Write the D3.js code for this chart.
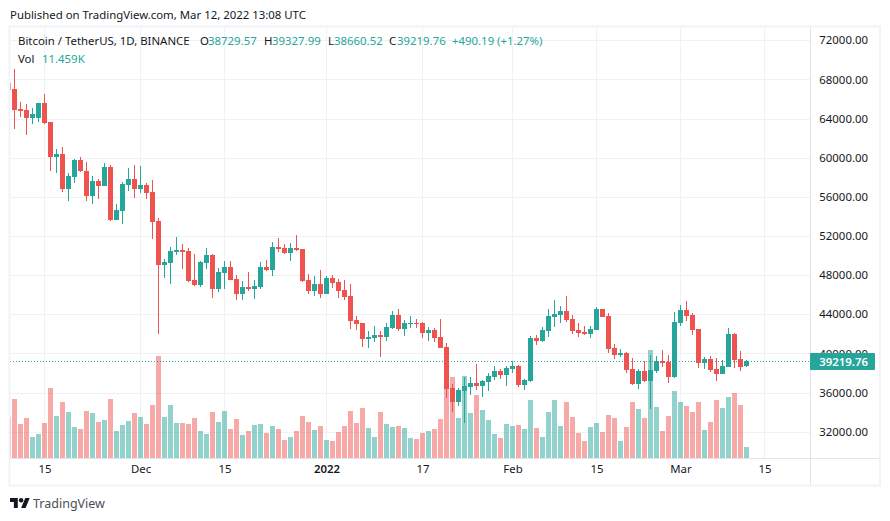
<!DOCTYPE html>
<html>
<head>
<meta charset="utf-8">
<style>
  html, body { margin: 0; padding: 0; background: #fff; }
  svg { display: block; }
  text { font-family: "Noto Sans", sans-serif; font-size: 11.4px; fill: #131722; }
</style>
<script src="https://cdn.jsdelivr.net/npm/d3@7"></script>
</head>
<body>
<div id="chart"></div>
<script>
// daily candles, first one is 2021-11-09 (mostly cut off by the left edge)
var firstDay = Date.UTC(2021, 10, 9);

var opens = [67624,67009,64957,64855,64034,64034,65573,63624,60034,60342,56854,57983,59726,58598,56136,57572,57060,59008,53675,54598,57162,57777,56854,57162,56547,53572,49059,49264,50393,50598,50495,47521,47008,49264,50085,46598,48239,48854,47623,46085,46803,46598,46803,48854,48546,50906,50803,50290,50803,50700,47521,46392,47110,46085,47726,47316,46495,45880,43418,43110,41469,41572,41879,41674,42597,43931,42495,43008,43110,43110,42085,42392,41674,40649,36443,35008,36136,36546,36956,36648,37058,37571,38187,37777,38392,38700,36752,37162,41573,41265,42291,43727,43932,44342,43522,42394,42188,41983,42394,44547,43830,40547,39829,40034,38393,36855,38188,37162,38188,39214,39111,37573,43112,44445,43932,42496,39009,39419,38393,37880,38598,41983,39419,38729.57];
var highs = [68000,69060,65675,65470,65060,65573,66496,63624,60855,61060,58393,59829,60034,59521,58085,57777,59419,59213,55316,57470,58906,59213,59111,57367,57675,53880,49675,50906,51931,51213,50803,50187,49470,50803,50187,48751,49470,49470,48033,47418,48341,47521,49367,49572,51418,51829,51213,51316,52136,50700,48136,47931,48547,47931,48034,47623,47521,47110,43828,43110,42290,42803,42290,43110,44341,44546,43418,43828,43521,43213,42700,42597,43521,41059,36854,36443,37571,37571,38905,37264,37982,38700,38392,38700,39213,38802,37368,41778,41881,42701,44547,45471,44855,45881,43932,43112,42804,42804,44753,44547,44137,40957,40445,40137,39522,38393,39214,39829,39727,40342,39829,44240,44958,45368,44137,42496,39624,39727,39522,39316,42598,42086,40239,39327.99];
var lows = [66500,62906,64137,62291,63419,63624,63419,58598,58393,56547,55624,57367,58496,55624,55316,55829,57060,53572,53675,53264,56649,55931,56444,55829,51726,41982,47726,47111,50085,48649,47316,46905,46803,48649,45675,46290,46598,47521,45469,45469,46392,45572,46598,48444,47931,50393,50188,49470,50495,47316,46085,45880,45674,46085,46700,45674,45469,42495,42392,40649,40546,41162,39623,41264,42495,42290,41777,42597,42597,41572,41264,41162,40546,35417,33982,34597,32853,35725,36238,35520,36136,37264,37367,36648,37982,36546,36239,37060,40855,41163,41675,42701,43112,43214,41983,41675,41881,41573,42394,43727,40034,39419,39624,37983,36752,36342,37060,34290,37983,38598,36957,37470,42804,43317,41881,38496,38393,38086,37162,37880,38598,38496,38188,38660.52];
var closes = [66906,64855,64752,64034,64445,65573,63521,60034,60342,56854,58085,59726,58598,56136,57572,57060,59008,53675,54701,57265,57777,56854,57162,56444,53470,49059,49367,50495,50598,50393,47418,47008,49367,50085,46598,48341,48854,47521,46085,46803,46598,46905,48854,48546,50906,50700,50290,50803,50598,47418,46392,47110,46085,47726,47213,46392,45777,43315,43008,41469,41674,41879,41674,42700,43931,42495,43110,43110,43008,42085,42392,41572,40546,36341,35008,36238,36648,36956,36648,37161,37674,38187,37777,38495,38700,36751,37265,41573,41265,42394,43830,44035,44342,43419,42291,42086,41983,42496,44547,43727,40445,39829,40034,38291,36855,38188,37162,38291,39214,39009,37573,43214,44445,43829,42394,39009,39419,38291,37880,38701,41983,39316,38598,39219.76];
// volume in thousands of BTC
var volumes = [43.1,61.5,35.4,41.7,21.9,25,36.5,72.9,43.8,58.3,47.9,32.3,30.2,49,46.9,37.5,39.6,61.5,28.1,34.4,38.5,46.9,42.7,35.4,55.2,106.3,42.7,55.2,36.5,36.5,35.4,41.7,28.1,25,47.9,37.5,49,30.2,40.6,24,28.1,34.4,35.4,26,33.3,30.2,18.8,21.9,28.1,43.8,37.5,29.2,33.3,18.8,17.7,27.1,33.3,49,36.5,52.1,31.3,21.9,47.9,35.4,32.3,33.3,31.3,20.8,19.8,26,28.1,30.2,40.6,77.8,84.4,41.7,85.4,46.9,65.6,50,39.6,25,20.8,35.4,33.3,34.4,30.2,60.4,31.3,21.9,47.9,60.4,33.3,58.3,42.7,26,17.7,32.3,36.5,27.1,44.8,41.7,17.7,32.3,58.3,51,41.7,112.5,53.1,28.1,43.8,69.8,58.3,54.2,47.9,58.3,29.2,37.5,60.4,52.1,63.5,67.7,55.2,11.459];

var priceTicks = [32000,36000,40000,44000,48000,52000,56000,60000,64000,68000,72000];
var dateTicks = ["2021-11-15","2021-12-01","2021-12-15","2022-01-01","2022-01-17","2022-02-01","2022-02-15","2022-03-01","2022-03-15"];
var dateLabels = ["15","Dec","15","2022","17","Feb","15","Mar","15"];
var lastPrice = 39219.76;

var UP = "#26a69a", DOWN = "#ef5350";
var GRID = "#f0f1f4";

// the pane inside the frame
var pane = {left: 10, right: 810, top: 27, bottom: 458};

var svg = d3.select("#chart").append("svg")
  .attr("width", 890)
  .attr("height", 521);

var dayMs = 86400000;
var candles = opens.map(function(o, i) {
  return {date: new Date(firstDay + i * dayMs), o: o, h: highs[i], l: lows[i], c: closes[i], v: volumes[i]};
});

var x = d3.scaleUtc()
  .domain([new Date("2021-11-10"), new Date("2022-03-15")])
  .range([14.5, 764.5]);

var y = d3.scaleLinear()
  .domain([32000, 72000])
  .range([431.7, 40.3]);

var yVol = d3.scaleLinear()
  .domain([0, 100])
  .range([pane.bottom, pane.bottom - 96]);

var tickDates = dateTicks.map(function(d) { return new Date(d); });

svg.append("text")
  .attr("x", 10).attr("y", 19)
  .text("Published on TradingView.com, Mar 12, 2022 13:08 UTC");

// gridlines
var grid = svg.append("g");
grid.selectAll(".gridH").data(priceTicks).enter().append("line")
  .attr("x1", pane.left).attr("x2", pane.right)
  .attr("y1", function(d) { return Math.round(y(d)) + 0.5; })
  .attr("y2", function(d) { return Math.round(y(d)) + 0.5; })
  .attr("stroke", GRID);
grid.selectAll(".gridV").data(tickDates).enter().append("line")
  .attr("x1", function(d) { return x(d); })
  .attr("x2", function(d) { return x(d); })
  .attr("y1", pane.top).attr("y2", pane.bottom)
  .attr("stroke", GRID);

svg.append("clipPath").attr("id", "paneClip").append("rect")
  .attr("x", pane.left).attr("y", pane.top)
  .attr("width", pane.right - pane.left)
  .attr("height", pane.bottom - pane.top);

var plot = svg.append("g").attr("clip-path", "url(#paneClip)");

function colour(d) { return d.c >= d.o ? UP : DOWN; }

// volume goes under the candles
plot.selectAll(".vol").data(candles).enter().append("rect")
  .attr("x", function(d) { return x(d.date) - 2.5; })
  .attr("width", 5)
  .attr("y", function(d) { return Math.round(yVol(d.v)); })
  .attr("height", function(d) { return pane.bottom - Math.round(yVol(d.v)); })
  .attr("fill", colour)
  .attr("fill-opacity", 0.5);

// last price line
plot.append("line")
  .attr("x1", pane.left).attr("x2", pane.right)
  .attr("y1", Math.round(y(lastPrice)) + 0.5)
  .attr("y2", Math.round(y(lastPrice)) + 0.5)
  .attr("stroke", UP)
  .attr("stroke-dasharray", "1,2");

// wicks
plot.selectAll(".wick").data(candles).enter().append("rect")
  .attr("x", function(d) { return x(d.date) - 0.5; })
  .attr("width", 1)
  .attr("y", function(d) { return Math.round(y(d.h)); })
  .attr("height", function(d) { return Math.round(y(d.l)) - Math.round(y(d.h)); })
  .attr("fill", colour);

// bodies
plot.selectAll(".body").data(candles).enter().append("rect")
  .attr("x", function(d) { return x(d.date) - 2.5; })
  .attr("width", 5)
  .attr("y", function(d) { return Math.round(y(Math.max(d.o, d.c))); })
  .attr("height", function(d) {
    return Math.max(1, Math.round(y(Math.min(d.o, d.c))) - Math.round(y(Math.max(d.o, d.c))));
  })
  .attr("fill", colour);

// bottom axis
var xAxis = svg.append("g")
  .attr("transform", "translate(0," + pane.bottom + ")")
  .call(d3.axisBottom(x)
    .tickValues(tickDates)
    .tickSize(0)
    .tickPadding(7)
    .tickFormat(function(d, i) { return dateLabels[i]; }));
xAxis.select(".domain").remove();
xAxis.selectAll("text")
  .style("font-family", '"Noto Sans", sans-serif')
  .style("font-size", "11.4px")
  .style("fill", "#131722")
  .style("font-weight", function(d, i) { return dateLabels[i] === "2022" ? 600 : 400; });

// price axis
var yAxis = svg.append("g")
  .attr("transform", "translate(" + pane.right + ",0)")
  .call(d3.axisRight(y)
    .tickValues(priceTicks)
    .tickSize(0)
    .tickFormat(function(d) { return d.toFixed(2); }));
yAxis.select(".domain").remove();
yAxis.selectAll("text")
  .attr("x", 58)
  .attr("text-anchor", "end")
  .style("font-family", '"Noto Sans", sans-serif')
  .style("font-size", "11.4px")
  .style("fill", "#131722");

// axis lines and outer frame
svg.append("line")
  .attr("x1", pane.left).attr("x2", 880)
  .attr("y1", pane.bottom + 0.5).attr("y2", pane.bottom + 0.5)
  .attr("stroke", "#e0e3eb");
svg.append("line")
  .attr("x1", pane.right + 0.5).attr("x2", pane.right + 0.5)
  .attr("y1", pane.top).attr("y2", 485)
  .attr("stroke", "#e0e3eb");
svg.append("rect")
  .attr("x", 9.5).attr("y", 26.5)
  .attr("width", 870.5).attr("height", 459)
  .attr("fill", "none")
  .attr("stroke", "#f0f3fa")
  .attr("stroke-width", 2);

// last price tag
svg.append("rect")
  .attr("x", pane.right).attr("y", Math.round(y(lastPrice)) - 8)
  .attr("width", 65).attr("height", 17)
  .attr("rx", 1)
  .attr("fill", UP);
svg.append("text")
  .attr("x", 868).attr("y", Math.round(y(lastPrice)) + 5)
  .attr("text-anchor", "end")
  .style("fill", "#fff")
  .style("font-weight", 600)
  .text(lastPrice.toFixed(2));

// legend
var legendDark = [
  {t: "Bitcoin / TetherUS, 1D, BINANCE", x: 18}, {t: "O", x: 200}, {t: "H", x: 264},
  {t: "L", x: 328}, {t: "C", x: 389}
];
var legendTeal = [
  {t: "38729.57", x: 208}, {t: "39327.99", x: 272}, {t: "38660.52", x: 334},
  {t: "39219.76", x: 397}, {t: "+490.19", x: 452}, {t: "(+1.27%)", x: 497}
];
svg.selectAll(".legendDark").data(legendDark).enter().append("text")
  .attr("x", function(d) { return d.x; }).attr("y", 45)
  .text(function(d) { return d.t; });
svg.selectAll(".legendTeal").data(legendTeal).enter().append("text")
  .attr("x", function(d) { return d.x; }).attr("y", 45)
  .style("fill", UP)
  .text(function(d) { return d.t; });
svg.append("text").attr("x", 18).attr("y", 63).text("Vol");
svg.append("text").attr("x", 42).attr("y", 63).style("fill", UP).text("11.459K");

// footer logo
svg.append("path")
  .attr("transform", "translate(10,495.8) scale(0.556)")
  .attr("fill", "#131722")
  .attr("d", "M14 22H7V11H0V4h14v18zM28 22h-8l7.5-18h8L28 22z");
svg.append("circle")
  .attr("transform", "translate(10,495.8) scale(0.556)")
  .attr("cx", 20).attr("cy", 8).attr("r", 4)
  .attr("fill", "#131722");
svg.append("text")
  .attr("x", 33).attr("y", 508)
  .style("font-size", "12.5px")
  .style("fill", "#4a4e57")
  .text("TradingView");
</script>
</body>
</html>
